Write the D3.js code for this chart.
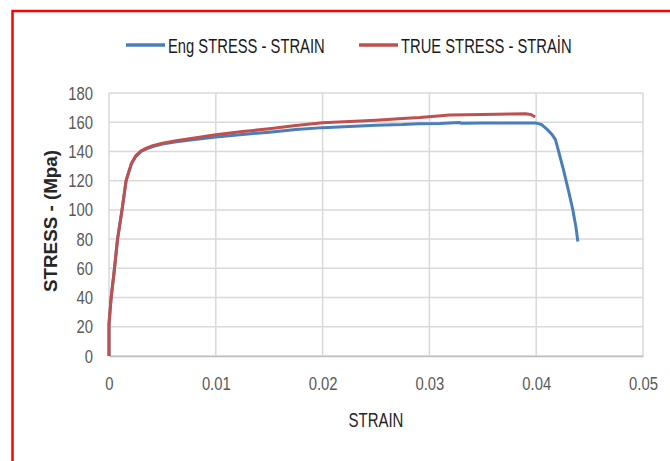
<!DOCTYPE html>
<html>
<head>
<meta charset="utf-8">
<script src="https://cdn.jsdelivr.net/npm/d3@7"></script>
<style>
  body { margin: 0; background: #fff; }
  text { font-family: "Liberation Sans", Arial, sans-serif; }
</style>
</head>
<body>
<div class="chart"></div>
<script>

// strain values of the engineering curve
var engStrain = [0, 0, 0.0002, 0.00047, 0.0008, 0.00122, 0.0016, 0.0021, 0.0025, 0.0030, 0.0035, 0.0041,
  0.005, 0.0063, 0.008, 0.01, 0.0125, 0.015, 0.0175, 0.02, 0.0225, 0.025, 0.0275, 0.029, 0.031,
  0.0328, 0.033, 0.035, 0.0375, 0.04, 0.0405, 0.041, 0.04146, 0.0418, 0.04193, 0.0421, 0.04255,
  0.043, 0.04343, 0.04371, 0.0439];
var engStress = [0, 22, 40, 57, 80, 100, 120, 131.5, 136.5, 140, 141.8, 143.4,
  145, 146.6, 148.2, 149.8, 151.6, 153.2, 155, 156.3, 157, 158, 158.4, 158.9, 159.1,
  159.8, 159.3, 159.4, 159.5, 159.4, 158.4, 155.3, 151.8, 148.1, 144.7, 140, 127.6,
  113.9, 100.1, 88.7, 78.4];

// strain values of the true curve
var trueStrain = [0, 0, 0.0002, 0.00047, 0.0008, 0.00122, 0.0016, 0.0021, 0.0025, 0.0030, 0.0035, 0.0041,
  0.005, 0.0063, 0.008, 0.01, 0.0125, 0.015, 0.0175, 0.02, 0.0225, 0.025, 0.0275, 0.0291, 0.0319,
  0.035, 0.0375, 0.039, 0.0395, 0.0399];
var trueStress = [0, 22, 40, 57, 80, 100, 120, 131.8, 137, 140.4, 142.3, 144,
  145.6, 147.4, 149.2, 151.5, 153.6, 155.5, 157.8, 159.6, 160.5, 161.4, 162.6, 163.3, 165,
  165.2, 165.7, 165.8, 165.3, 163.6];

var xTicks = [0, 0.01, 0.02, 0.03, 0.04, 0.05];
var yTicks = [0, 20, 40, 60, 80, 100, 120, 140, 160, 180];

var seriesNames = ["Eng STRESS - STRAIN", "TRUE STRESS - STRAİN"];
var seriesColors = ["#4a7ebb", "#c0504d"];

var width = 670, height = 461;
var margin = {top: 93, right: 27, bottom: 105, left: 109};

// the picture's text is narrow, so squeeze each label sideways
function squeeze(sel, k) {
  sel.each(function() {
    var w = this.getComputedTextLength();
    d3.select(this)
      .attr("textLength", w * k)
      .attr("lengthAdjust", "spacingAndGlyphs");
  });
}

var svg = d3.select(".chart")
  .append("svg")
    .attr("width", width)
    .attr("height", height);

// red frame round the chart
svg.append("path")
  .attr("d", "M12.5," + height + " L12.5,11 L" + width + ",11")
  .style("fill", "none")
  .style("stroke", "#ff0000")
  .style("stroke-width", 2.5);

var x = d3.scaleLinear()
  .domain([0, 0.05])
  .range([margin.left, width - margin.right]);

var y = d3.scaleLinear()
  .domain([0, 180])
  .range([height - margin.bottom, margin.top]);

// gridlines
svg.append("g")
  .selectAll("line.h")
  .data(yTicks)
  .enter().append("line")
    .attr("x1", x(0))
    .attr("x2", x(0.05))
    .attr("y1", function(d) { return y(d); })
    .attr("y2", function(d) { return y(d); })
    .style("stroke", "#d9d9d9")
    .style("stroke-width", 1.5);

svg.append("g")
  .selectAll("line.v")
  .data(xTicks)
  .enter().append("line")
    .attr("x1", function(d) { return x(d); })
    .attr("x2", function(d) { return x(d); })
    .attr("y1", y(0))
    .attr("y2", y(180))
    .style("stroke", "#d9d9d9")
    .style("stroke-width", 1.5);

// axes
var xAxis = svg.append("g")
  .attr("transform", "translate(0," + y(0) + ")")
  .call(d3.axisBottom(x).tickValues(xTicks).tickSize(0).tickPadding(21)
    .tickFormat(function(d) { return d === 0 ? "0" : d3.format(".2f")(d); }));
xAxis.select(".domain").style("stroke", "#bfbfbf").style("stroke-width", 1.5);

var yAxis = svg.append("g")
  .attr("transform", "translate(" + x(0) + ",0)")
  .call(d3.axisLeft(y).tickValues(yTicks).tickSize(0).tickPadding(16));
yAxis.select(".domain").remove();

svg.selectAll(".tick text")
  .style("font-family", "Liberation Sans, Arial, sans-serif")
  .style("font-size", "19px")
  .style("fill", "#595959")
  .call(squeeze, 0.78);

// axis titles
svg.append("text")
  .attr("x", (x(0) + x(0.05)) / 2)
  .attr("y", 427)
  .style("text-anchor", "middle")
  .style("font-size", "20.5px")
  .style("fill", "#262626")
  .text("STRAIN")
  .call(squeeze, 0.73);

svg.append("text")
  .attr("transform", "translate(57,221) rotate(-90)")
  .style("text-anchor", "middle")
  .style("font-weight", "bold")
  .style("font-size", "18.8px")
  .style("fill", "#262626")
  .text("STRESS - (Mpa)");

// the two curves
var line = d3.line()
  .x(function(d) { return x(d[0]); })
  .y(function(d) { return y(d[1]); });

var engData = d3.zip(engStrain, engStress);
var trueData = d3.zip(trueStrain, trueStress);

svg.append("path")
  .datum(engData)
  .attr("d", line)
  .style("fill", "none")
  .style("stroke", seriesColors[0])
  .style("stroke-width", 3)
  .style("stroke-linejoin", "round");

svg.append("path")
  .datum(trueData)
  .attr("d", line)
  .style("fill", "none")
  .style("stroke", seriesColors[1])
  .style("stroke-width", 3)
  .style("stroke-linejoin", "round");

// legend
var legendX = [126, 359];
for (var i = 0; i < 2; i++) {
  svg.append("line")
    .attr("x1", legendX[i])
    .attr("x2", legendX[i] + 39)
    .attr("y1", 45)
    .attr("y2", 45)
    .style("stroke", seriesColors[i])
    .style("stroke-width", 3.5);

  svg.append("text")
    .attr("x", legendX[i] + 42)
    .attr("y", 52.5)
    .style("font-size", "20.5px")
    .style("fill", "#1a1a1a")
    .text(seriesNames[i])
    .call(squeeze, 0.72);
}

</script>
</body>
</html>
